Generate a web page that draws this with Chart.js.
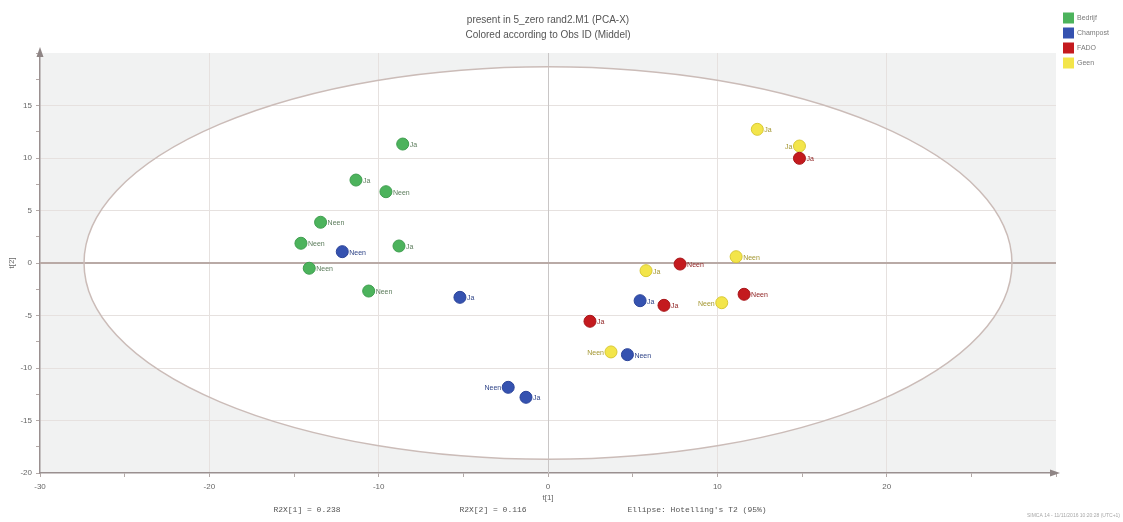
<!DOCTYPE html>
<html>
<head>
<meta charset="utf-8">
<script src="https://cdn.jsdelivr.net/npm/chart.js@4/dist/chart.umd.min.js"></script>
<style>
  html, body { margin: 0; padding: 0; background: #ffffff; }
  #wrap { width: 1123px; height: 522px; position: relative; }
</style>
</head>
<body>
<div id="wrap"><canvas id="c" width="1123" height="522"></canvas></div>
<script>
// Score values t[1], t[2] per observation, grouped by "Middel"
const seriesNames = ['Bedrijf', 'Champost', 'FADO', 'Geen'];

const bedrijfX = [-8.58, -11.34, -9.57, -13.43, -14.59, -8.80, -14.10, -10.59];
const bedrijfY = [11.33, 7.90, 6.79, 3.88, 1.88, 1.62, -0.50, -2.67];
const bedrijfObs = ['Ja', 'Ja', 'Neen', 'Neen', 'Neen', 'Ja', 'Neen', 'Neen'];

const champostX = [-12.15, -5.20, 5.44, 4.69, -2.35, -1.30];
const champostY = [1.08, -3.27, -3.59, -8.73, -11.84, -12.79];
const champostObs = ['Neen', 'Ja', 'Ja', 'Neen', 'Neen', 'Ja'];

const fadoX = [14.85, 7.80, 11.58, 6.85, 2.48];
const fadoY = [9.97, -0.10, -2.98, -4.03, -5.55];
const fadoObs = ['Ja', 'Neen', 'Neen', 'Ja', 'Ja'];

const geenX = [12.36, 14.85, 11.11, 5.79, 10.26, 3.72];
const geenY = [12.73, 11.14, 0.60, -0.73, -3.78, -8.47];
const geenObs = ['Ja', 'Ja', 'Neen', 'Ja', 'Neen', 'Neen'];

// Hotelling's T2 (95%) ellipse semi-axes in score units
const ellipseT1 = 27.4;
const ellipseT2 = 18.7;

const titleLines = ['present in 5_zero rand2.M1 (PCA-X)', 'Colored according to Obs ID (Middel)'];
const footNotes = ['R2X[1] = 0.238', 'R2X[2] = 0.116', "Ellipse: Hotelling's T2 (95%)"];
const stamp = 'SIMCA 14 - 11/11/2016 10:20:28 (UTC+1)';

// styling
const fills   = ['#4cb35c', '#3552b0', '#c41a1e', '#f3e54a'];
const borders = ['#3f9e4f', '#2b449a', '#a8161a', '#d9c935'];
const textCol = ['#5d7d5d', '#2f4488', '#8c1c1c', '#a39630'];
// observations whose label sits on the left of the marker
const leftLabelled = { 1: [4], 3: [1, 4, 5] };

const xs = [bedrijfX, champostX, fadoX, geenX];
const ys = [bedrijfY, champostY, fadoY, geenY];
const obs = [bedrijfObs, champostObs, fadoObs, geenObs];

const datasets = seriesNames.map((name, s) => ({
  label: name,
  data: xs[s].map((x, i) => ({ x: x, y: ys[s][i], obs: obs[s][i] })),
  backgroundColor: fills[s],
  borderColor: borders[s],
  borderWidth: 1,
  pointRadius: 6,
  pointHoverRadius: 6
}));

const SANS = '"Liberation Sans", Arial, sans-serif';
const MONO = '"Liberation Mono", "DejaVu Sans Mono", monospace';

const backdrop = {
  id: 'backdrop',
  beforeDraw(chart) {
    const { ctx, chartArea: a, scales: { x, y } } = chart;
    ctx.save();
    ctx.fillStyle = '#f1f2f2';
    ctx.fillRect(a.left, a.top, a.right - a.left, a.bottom - a.top);
    const cx = x.getPixelForValue(0), cy = y.getPixelForValue(0);
    const rx = x.getPixelForValue(ellipseT1) - cx;
    const ry = cy - y.getPixelForValue(ellipseT2);
    ctx.beginPath();
    ctx.ellipse(cx, cy, rx, ry, 0, 0, Math.PI * 2);
    ctx.fillStyle = '#ffffff';
    ctx.fill();
    ctx.restore();
  },
  beforeDatasetsDraw(chart) {
    const { ctx, chartArea: a, scales: { x, y } } = chart;
    const cx = x.getPixelForValue(0), cy = y.getPixelForValue(0);
    const rx = x.getPixelForValue(ellipseT1) - cx;
    const ry = cy - y.getPixelForValue(ellipseT2);
    ctx.save();
    // zero lines
    ctx.strokeStyle = '#c9c6c6';
    ctx.lineWidth = 1;
    ctx.beginPath();
    ctx.moveTo(Math.round(cx) + 0.5, a.top);
    ctx.lineTo(Math.round(cx) + 0.5, a.bottom);
    ctx.stroke();
    ctx.strokeStyle = '#b9aaa6';
    ctx.lineWidth = 2;
    ctx.beginPath();
    ctx.moveTo(a.left, Math.round(cy));
    ctx.lineTo(a.right, Math.round(cy));
    ctx.stroke();
    // ellipse outline
    ctx.strokeStyle = '#cbbcb8';
    ctx.lineWidth = 1.5;
    ctx.beginPath();
    ctx.ellipse(cx, cy, rx, ry, 0, 0, Math.PI * 2);
    ctx.stroke();
    ctx.restore();
  },
  afterDraw(chart) {
    const { ctx, chartArea: a, scales: { x, y } } = chart;
    ctx.save();
    // axis arrows
    ctx.fillStyle = '#8f8585';
    ctx.beginPath();
    ctx.moveTo(a.left, a.top - 6);
    ctx.lineTo(a.left - 3.5, a.top + 4);
    ctx.lineTo(a.left + 3.5, a.top + 4);
    ctx.closePath();
    ctx.fill();
    ctx.beginPath();
    ctx.moveTo(a.right + 4, a.bottom);
    ctx.lineTo(a.right - 6, a.bottom - 3.5);
    ctx.lineTo(a.right - 6, a.bottom + 3.5);
    ctx.closePath();
    ctx.fill();

    // observation labels
    ctx.font = '7px ' + SANS;
    ctx.textBaseline = 'middle';
    chart.data.datasets.forEach((ds, s) => {
      const meta = chart.getDatasetMeta(s);
      meta.data.forEach((pt, i) => {
        const left = (leftLabelled[s] || []).includes(i);
        ctx.fillStyle = textCol[s];
        ctx.textAlign = left ? 'right' : 'left';
        ctx.fillText(ds.data[i].obs, pt.x + (left ? -7 : 7), pt.y + 1);
      });
    });

    // title
    ctx.fillStyle = '#555555';
    ctx.font = '10px ' + SANS;
    ctx.textAlign = 'center';
    ctx.textBaseline = 'middle';
    const mid = x.getPixelForValue(0);
    ctx.fillText(titleLines[0], mid, 20);
    ctx.fillText(titleLines[1], mid, 35);

    // axis titles
    ctx.font = '8px ' + SANS;
    ctx.fillStyle = '#666666';
    ctx.fillText('t[1]', mid, 498);
    ctx.save();
    ctx.translate(12, y.getPixelForValue(0));
    ctx.rotate(-Math.PI / 2);
    ctx.fillText('t[2]', 0, 0);
    ctx.restore();

    // statistics row
    ctx.font = '8px ' + MONO;
    ctx.fillStyle = '#555555';
    ctx.fillText(footNotes[0], 307, 510);
    ctx.fillText(footNotes[1], 493, 510);
    ctx.fillText(footNotes[2], 697, 510);

    ctx.font = '5px ' + SANS;
    ctx.fillStyle = '#a8a8a8';
    ctx.textAlign = 'right';
    ctx.fillText(stamp, 1120, 516);

    // legend
    ctx.textAlign = 'left';
    ctx.font = '7px ' + SANS;
    seriesNames.forEach((name, s) => {
      const cyL = 18 + s * 15;
      ctx.fillStyle = fills[s];
      ctx.fillRect(1063, cyL - 5.5, 11, 11);
      ctx.fillStyle = '#7a7a7a';
      ctx.fillText(name, 1077, cyL + 0.5);
    });
    ctx.restore();
  }
};

new Chart(document.getElementById('c'), {
  type: 'scatter',
  data: { datasets },
  plugins: [backdrop],
  options: {
    responsive: false,
    animation: false,
    events: [],
    layout: { padding: { top: 53, right: 67, bottom: 0, left: 0 } },
    plugins: { legend: { display: false }, tooltip: { enabled: false }, title: { display: false } },
    scales: {
      x: {
        type: 'linear', min: -30, max: 30,
        afterFit(scale) { scale.height = 49; },
        afterBuildTicks(scale) {
          const t = [];
          for (let v = -30; v <= 30; v += 5) t.push({ value: v });
          scale.ticks = t;
        },
        ticks: {
          autoSkip: false, maxRotation: 0, padding: 5,
          color: '#666666', font: { family: SANS, size: 8 },
          callback: v => (v % 10 === 0 && v !== 30) ? String(v) : ''
        },
        grid: {
          drawOnChartArea: true, drawTicks: true, tickLength: 4,
          color: ctx => (ctx.tick && ctx.tick.value % 10 === 0 && ctx.tick.value !== 0 && Math.abs(ctx.tick.value) !== 30) ? '#e6e1df' : 'rgba(0,0,0,0)',
          tickColor: '#b3a9a7'
        },
        border: { display: true, color: '#9a9090', width: 1.5 }
      },
      y: {
        type: 'linear', min: -20, max: 20,
        afterFit(scale) { scale.width = 40; },
        afterBuildTicks(scale) {
          const t = [];
          for (let v = -20; v <= 20; v += 2.5) t.push({ value: v });
          scale.ticks = t;
        },
        ticks: {
          autoSkip: false, padding: 4,
          color: '#666666', font: { family: SANS, size: 8 },
          callback: v => (v % 5 === 0 && v !== 20) ? String(v) : ''
        },
        grid: {
          drawOnChartArea: true, drawTicks: true, tickLength: 4,
          color: ctx => (ctx.tick && ctx.tick.value % 5 === 0 && ctx.tick.value !== 0 && Math.abs(ctx.tick.value) !== 20) ? '#e6e1df' : 'rgba(0,0,0,0)',
          tickColor: '#b3a9a7'
        },
        border: { display: true, color: '#9a9090', width: 1.5 }
      }
    }
  }
});
</script>
</body>
</html>
